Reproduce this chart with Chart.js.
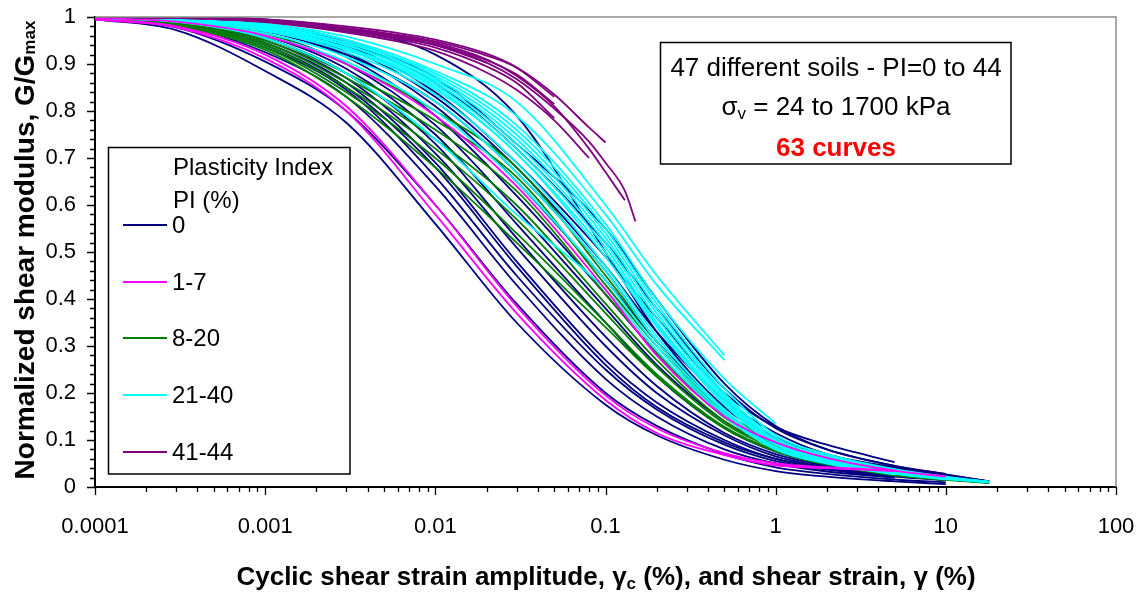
<!DOCTYPE html>
<html><head><meta charset="utf-8">
<script src="https://cdn.jsdelivr.net/npm/chart.js@4.4.1/dist/chart.umd.min.js"></script>
<style>html,body{margin:0;padding:0;background:#fff;}canvas{display:block;}</style>
</head><body>
<canvas id="c" width="1146" height="597"></canvas>
<script>
// ---------------- DATA ----------------
const strain = [0.0001, 0.0003, 0.001, 0.003, 0.01, 0.03, 0.1, 0.2, 0.5, 1, 2, 5, 10, 18];
const strainPurple = [0.0001, 0.0003, 0.001, 0.003, 0.006, 0.01, 0.02, 0.03, 0.05, 0.08, 0.1, 0.13, 0.15];

const xTickValues = [0.0001, 0.001, 0.01, 0.1, 1, 10, 100];
const xTickLabels = ['0.0001', '0.001', '0.01', '0.1', '1', '10', '100'];
const yTickValues = [0, 0.1, 0.2, 0.3, 0.4, 0.5, 0.6, 0.7, 0.8, 0.9, 1];
const yTickLabels = ['0', '0.1', '0.2', '0.3', '0.4', '0.5', '0.6', '0.7', '0.8', '0.9', '1'];

const legendLabels = ['0', '1-7', '8-20', '21-40', '41-44'];
const legendColors = ['#000080', '#ff00ff', '#008000', '#00ffff', '#800080'];

// PI = 0 (dark blue)
const pi0Curves = [
  [0.995, 0.972, 0.885, 0.775, 0.56, 0.35, 0.175, 0.11, 0.058, 0.034, 0.022, 0.012, 0.006, null],
  [0.997, 0.978, 0.905, 0.80, 0.60, 0.39, 0.20, 0.13, 0.07, 0.042, 0.028, 0.016, 0.01, null],
  [0.998, 0.984, 0.925, 0.83, 0.64, 0.43, 0.23, 0.15, 0.08, 0.05, 0.033, 0.02, null, null],
  [0.998, 0.985, 0.935, 0.845, 0.66, 0.45, 0.25, 0.165, 0.09, 0.055, 0.037, 0.022, 0.014, null],
  [0.999, 0.99, 0.945, 0.86, 0.69, 0.48, 0.27, 0.18, 0.10, 0.06, 0.04, 0.024, null, null],
  [0.999, 0.99, 0.95, 0.87, 0.71, 0.51, 0.30, 0.20, 0.11, 0.065, 0.042, 0.025, 0.016, null],
  [1.0, 0.99, 0.955, 0.88, 0.73, 0.53, 0.32, 0.215, 0.115, 0.07, 0.045, 0.027, null, null],
  [1.0, 0.992, 0.96, 0.89, 0.75, 0.56, 0.35, 0.235, 0.125, 0.075, 0.048, 0.028, 0.018, null],
  [1.0, 0.993, 0.965, 0.90, 0.77, 0.59, 0.38, 0.26, 0.14, 0.085, 0.055, 0.03, null, null],
  [1.0, 0.995, 0.97, 0.915, 0.79, 0.62, 0.41, 0.285, 0.155, 0.095, 0.06, 0.035, 0.022, null],
  [1.0, 0.995, 0.975, 0.925, 0.81, 0.65, 0.44, 0.31, 0.17, 0.105, 0.065, 0.04, 0.025, 0.012],
  [1.0, 0.996, 0.978, 0.935, 0.83, 0.68, 0.47, 0.33, 0.185, 0.115, 0.07, 0.042, 0.026, 0.012],
  [1.0, 0.996, 0.98, 0.94, 0.84, 0.69, 0.49, 0.36, 0.20, 0.128, 0.09, 0.053, null, null],
  [1.0, 0.997, 0.982, 0.945, 0.86, 0.72, 0.52, 0.38, 0.21, 0.125, 0.08, 0.045, 0.028, null],
  [1.0, 1.0, 0.995, 0.975, 0.92, 0.79, 0.50, 0.33, 0.17, 0.10, 0.062, 0.035, 0.02, null],
  [1.0, 0.998, 0.985, 0.95, 0.87, 0.73, 0.55, 0.40, 0.22, 0.13, 0.08, 0.045, 0.027, 0.012],
  [1.0, 0.997, 0.975, 0.92, 0.82, 0.67, 0.46, 0.31, 0.16, 0.09, 0.055, 0.03, 0.018, null],
  [0.998, 0.988, 0.94, 0.85, 0.68, 0.47, 0.26, 0.17, 0.095, 0.06, 0.04, 0.025, 0.015, null]
];

// PI = 1-7 (magenta)
const pi1to7Curves = [
  [0.995, 0.978, 0.912, 0.80, 0.58, 0.37, 0.185, 0.115, 0.068, 0.046, 0.04, 0.034, null, null],
  [0.995, 0.98, 0.92, 0.81, 0.60, 0.385, 0.195, 0.125, 0.072, 0.05, 0.042, 0.035, null, null],
  [0.998, 0.99, 0.96, 0.90, 0.79, 0.64, 0.42, 0.28, 0.15, 0.095, 0.062, 0.035, 0.022, null]
];

// PI = 8-20 (green)
const pi8to20Curves = [
  [0.999, 0.993, 0.965, 0.90, 0.80, 0.68, 0.45, 0.31, 0.16, 0.098, 0.062, 0.033, 0.019, 0.011],
  [0.998, 0.99, 0.955, 0.88, 0.78, 0.66, 0.43, 0.30, 0.155, 0.095, 0.06, 0.031, 0.018, 0.01],
  [0.998, 0.988, 0.95, 0.87, 0.76, 0.63, 0.41, 0.285, 0.148, 0.09, 0.057, 0.03, 0.017, 0.009],
  [0.997, 0.985, 0.945, 0.86, 0.74, 0.60, 0.39, 0.27, 0.14, 0.086, 0.054, 0.028, 0.016, null],
  [0.997, 0.985, 0.94, 0.85, 0.72, 0.57, 0.37, 0.255, 0.135, 0.082, 0.052, 0.027, 0.015, 0.008],
  [0.996, 0.982, 0.935, 0.84, 0.70, 0.54, 0.35, 0.24, 0.128, 0.078, 0.05, 0.026, null, null],
  [0.996, 0.98, 0.93, 0.83, 0.68, 0.52, 0.34, 0.235, 0.125, 0.076, 0.048, 0.025, 0.015, null]
];

// PI = 21-40 (cyan)
const pi21to40Curves = [
  [1.0, 0.996, 0.986, 0.958, 0.90, 0.82, 0.60, 0.45, 0.28, null, null, null, null, null],
  [1.0, 0.996, 0.984, 0.952, 0.885, 0.79, 0.58, 0.43, 0.27, null, null, null, null, null],
  [1.0, 0.995, 0.98, 0.945, 0.88, 0.77, 0.56, 0.40, 0.23, 0.135, null, null, null, null],
  [1.0, 0.996, 0.982, 0.95, 0.875, 0.76, 0.55, 0.39, 0.21, 0.11, 0.07, 0.038, 0.022, 0.011],
  [1.0, 0.994, 0.978, 0.94, 0.865, 0.74, 0.53, 0.37, 0.195, 0.10, 0.065, 0.035, 0.02, 0.011],
  [1.0, 0.995, 0.98, 0.945, 0.87, 0.75, 0.54, 0.38, 0.20, 0.105, 0.066, 0.036, 0.021, null],
  [1.0, 0.993, 0.975, 0.935, 0.855, 0.72, 0.51, 0.35, 0.185, 0.095, 0.062, 0.034, 0.019, 0.01],
  [1.0, 0.995, 0.978, 0.94, 0.86, 0.73, 0.52, 0.36, 0.19, 0.098, 0.063, 0.035, 0.02, 0.011],
  [0.999, 0.993, 0.972, 0.93, 0.845, 0.71, 0.49, 0.34, 0.175, 0.09, 0.058, 0.032, 0.018, 0.01],
  [0.999, 0.994, 0.974, 0.932, 0.85, 0.71, 0.50, 0.345, 0.18, 0.092, 0.06, 0.033, 0.019, null],
  [0.999, 0.992, 0.97, 0.925, 0.835, 0.69, 0.47, 0.32, 0.165, 0.085, 0.055, 0.03, 0.017, null],
  [0.999, 0.99, 0.965, 0.915, 0.82, 0.67, 0.46, 0.31, 0.16, 0.082, 0.053, 0.029, 0.017, 0.01],
  [0.998, 0.99, 0.96, 0.905, 0.80, 0.65, 0.44, 0.30, 0.155, 0.08, 0.052, 0.028, 0.016, null],
  [0.998, 0.99, 0.955, 0.88, 0.74, 0.58, 0.42, 0.29, 0.15, 0.08, 0.05, 0.027, null, null]
];

// PI = 41-44 (purple)
const pi41to44Curves = [
  [1.0, 0.998, 0.99, 0.97, 0.955, 0.94, 0.903, null, null, null, null, null, null],
  [1.0, 0.999, 0.994, 0.977, 0.962, 0.948, 0.918, 0.892, 0.83, null, null, null, null],
  [1.0, 0.999, 0.993, 0.974, 0.958, 0.942, 0.908, 0.878, 0.815, null, null, null, null],
  [1.0, 0.998, 0.99, 0.97, 0.953, 0.935, 0.895, 0.86, 0.785, null, null, null, null],
  [1.0, 0.998, 0.989, 0.967, 0.948, 0.928, 0.882, 0.845, 0.78, 0.70, null, null, null],
  [1.0, 0.999, 0.995, 0.98, 0.966, 0.952, 0.922, 0.893, 0.835, 0.765, 0.733, null, null],
  [1.0, 0.999, 0.993, 0.975, 0.96, 0.945, 0.91, 0.875, 0.81, 0.72, 0.67, 0.61, null],
  [1.0, 0.999, 0.992, 0.973, 0.957, 0.94, 0.903, 0.868, 0.805, 0.735, 0.69, 0.63, 0.565]
];

// ---------------- BUILD ----------------
const FONT = "'Liberation Sans', Arial, sans-serif";

function makeSets(curves, xs, color) {
  return curves.map(vals => ({
    data: vals.map((v, i) => ({ x: xs[i], y: v })),
    borderColor: color,
    borderWidth: 1.8,
    pointRadius: 0,
    fill: false,
    cubicInterpolationMode: 'monotone',
    spanGaps: false
  }));
}
const datasets = [].concat(
  makeSets(pi41to44Curves, strainPurple, legendColors[4]),
  makeSets(pi1to7Curves, strain, legendColors[1]),
  makeSets(pi21to40Curves, strain, legendColors[3]),
  makeSets(pi8to20Curves, strain, legendColors[2]),
  makeSets(pi0Curves, strain, legendColors[0])
);

const decorPlugin = {
  id: 'decor',
  afterDraw(chart) {
    const ctx = chart.ctx;
    const xs = chart.scales.x, ys = chart.scales.y;
    const a = chart.chartArea;
    ctx.save();
    ctx.strokeStyle = '#8c8c8c';
    ctx.lineWidth = 1.5;
    ctx.beginPath();
    ctx.moveTo(a.left, a.top); ctx.lineTo(a.right, a.top); ctx.lineTo(a.right, a.bottom);
    ctx.stroke();
    ctx.strokeStyle = '#000';
    ctx.lineWidth = 1.3;
    ctx.beginPath();
    for (let d = -4; d <= 2; d++) {
      const base = Math.pow(10, d);
      const px = Math.round(xs.getPixelForValue(base)) + 0.5;
      ctx.moveTo(px, a.bottom); ctx.lineTo(px, a.bottom + 8);
      if (d < 2) {
        for (let m = 2; m <= 9; m++) {
          const p = Math.round(xs.getPixelForValue(base * m)) + 0.5;
          ctx.moveTo(p, a.bottom); ctx.lineTo(p, a.bottom + 5);
        }
      }
    }
    for (let i = 0; i <= 50; i++) {
      const v = i / 50;
      const py = Math.round(ys.getPixelForValue(v)) + 0.5;
      const len = (i % 5 === 0) ? 8 : 5;
      ctx.moveTo(a.left, py); ctx.lineTo(a.left - len, py);
    }
    ctx.stroke();

    // legend box
    ctx.fillStyle = '#fff';
    ctx.fillRect(108, 147, 242, 327);
    ctx.strokeStyle = '#000';
    ctx.lineWidth = 1.5;
    ctx.strokeRect(108.5, 147.5, 241.5, 326.5);
    ctx.fillStyle = '#000';
    ctx.font = '24px ' + FONT;
    ctx.textAlign = 'left';
    ctx.textBaseline = 'alphabetic';
    ctx.fillText('Plasticity Index', 173, 175);
    ctx.fillText('PI (%)', 173, 208);
    const entryY = [225, 282, 338, 395, 452];
    ctx.textBaseline = 'middle';
    legendLabels.forEach((lab, i) => {
      ctx.strokeStyle = legendColors[i];
      ctx.lineWidth = 2;
      ctx.beginPath();
      ctx.moveTo(123, entryY[i]); ctx.lineTo(167, entryY[i]);
      ctx.stroke();
      ctx.fillStyle = '#000';
      ctx.fillText(lab, 172, entryY[i] + 1);
    });

    // annotation box
    ctx.fillStyle = '#fff';
    ctx.fillRect(660, 42, 351, 122);
    ctx.strokeStyle = '#000';
    ctx.lineWidth = 1.5;
    ctx.strokeRect(660.5, 42.5, 350.5, 121.5);
    ctx.fillStyle = '#000';
    ctx.textBaseline = 'alphabetic';
    ctx.textAlign = 'center';
    ctx.font = '26px ' + FONT;
    ctx.fillText('47 different soils - PI=0 to 44', 836, 76);
    const f2 = '26px ' + FONT, fs = '17px ' + FONT;
    ctx.textAlign = 'left';
    ctx.font = f2; const w1 = ctx.measureText('\u03C3').width;
    ctx.font = fs; const w2 = ctx.measureText('v').width;
    ctx.font = f2; const w3 = ctx.measureText(' = 24 to 1700 kPa').width;
    let sx = 836 - (w1 + w2 + w3) / 2;
    ctx.font = f2; ctx.fillText('\u03C3', sx, 115); sx += w1;
    ctx.font = fs; ctx.fillText('v', sx, 119); sx += w2;
    ctx.font = f2; ctx.fillText(' = 24 to 1700 kPa', sx, 115);
    ctx.textAlign = 'center';
    ctx.fillStyle = '#ff0000';
    ctx.font = 'bold 26px ' + FONT;
    ctx.fillText('63 curves', 836, 156);

    // y axis title (rotated)
    ctx.fillStyle = '#000';
    ctx.save();
    ctx.translate(34, 250);
    ctx.rotate(-Math.PI / 2);
    const tf = 'bold 28px ' + FONT, tsf = 'bold 17px ' + FONT;
    ctx.textAlign = 'left';
    ctx.font = tf; const yw1 = ctx.measureText('Normalized shear modulus, G/G').width;
    ctx.font = tsf; const yw2 = ctx.measureText('max').width;
    let ty = -(yw1 + yw2) / 2;
    ctx.font = tf; ctx.fillText('Normalized shear modulus, G/G', ty, 0);
    ctx.font = tsf; ctx.fillText('max', ty + yw1, 1);
    ctx.restore();

    // x axis title
    const xf = 'bold 26px ' + FONT, xsf = 'bold 17px ' + FONT;
    const p1 = 'Cyclic shear strain amplitude, \u03B3', p2 = 'c', p3 = ' (%), and shear strain, \u03B3 (%)';
    ctx.textAlign = 'left';
    ctx.font = xf; const xw1 = ctx.measureText(p1).width, xw3 = ctx.measureText(p3).width;
    ctx.font = xsf; const xw2 = ctx.measureText(p2).width;
    let tx = 606 - (xw1 + xw2 + xw3) / 2;
    ctx.font = xf; ctx.fillText(p1, tx, 585); tx += xw1;
    ctx.font = xsf; ctx.fillText(p2, tx, 589); tx += xw2;
    ctx.font = xf; ctx.fillText(p3, tx, 585);
    ctx.restore();
  }
};

new Chart(document.getElementById('c'), {
  type: 'line',
  data: { datasets },
  options: {
    responsive: false,
    animation: false,
    devicePixelRatio: 1,
    layout: { padding: { top: 17, right: 30, left: 0, bottom: 0 } },
    plugins: { legend: { display: false }, tooltip: { enabled: false } },
    scales: {
      x: {
        type: 'logarithmic', min: 0.0001, max: 100, position: 'bottom',
        grid: { display: false, drawTicks: false },
        border: { display: true, color: '#000', width: 2 },
        afterBuildTicks: s => { s.ticks = xTickValues.map(v => ({ value: v, major: true })); },
        afterFit: s => { s.height = 110; s.paddingLeft = 0; s.paddingRight = 0; },
        ticks: {
          autoSkip: false, maxRotation: 0, color: '#000', padding: 27,
          font: { family: FONT, size: 22 },
          callback: (v, i) => xTickLabels[i]
        }
      },
      y: {
        type: 'linear', min: 0, max: 1,
        grid: { display: false, drawTicks: false },
        border: { display: true, color: '#000', width: 2 },
        afterBuildTicks: s => { s.ticks = yTickValues.map(v => ({ value: v })); },
        afterFit: s => { s.width = 95; s.paddingTop = 0; s.paddingBottom = 0; },
        ticks: {
          autoSkip: false, color: '#000', padding: 19,
          font: { family: FONT, size: 22 },
          callback: (v, i) => yTickLabels[i]
        }
      }
    }
  },
  plugins: [decorPlugin]
});
</script>
</body></html>
